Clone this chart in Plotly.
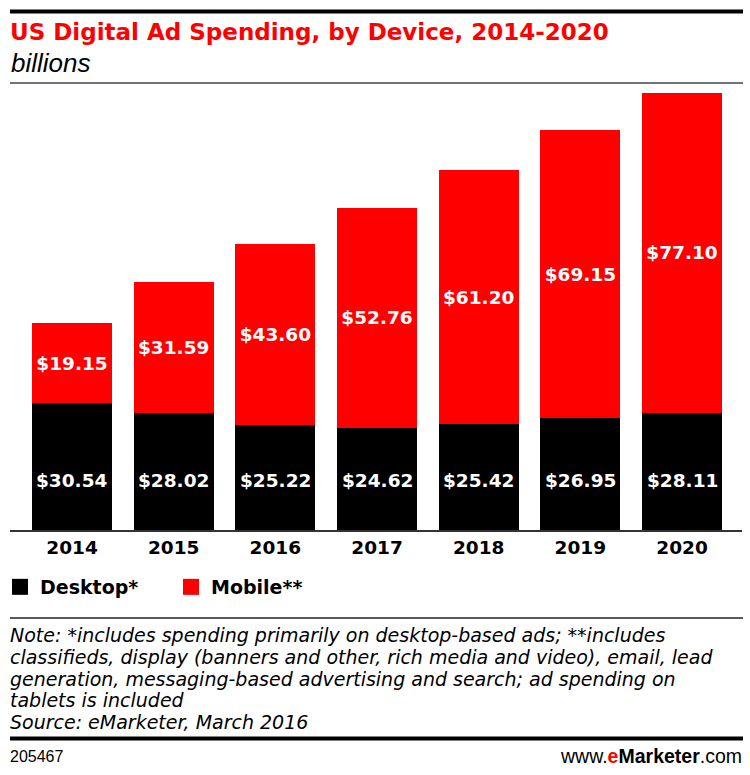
import plotly.graph_objects as go

# ---- data ----
years = ["2014", "2015", "2016", "2017", "2018", "2019", "2020"]
desktop = [30.54, 28.02, 25.22, 24.62, 25.42, 26.95, 28.11]
mobile = [19.15, 31.59, 43.60, 52.76, 61.20, 69.15, 77.10]
series_names = ["Desktop*", "Mobile**"]

title = "US Digital Ad Spending, by Device, 2014-2020"
subtitle = "billions"
note_lines = [
    "Note: *includes spending primarily on desktop-based ads; **includes",
    "classifieds, display (banners and other, rich media and video), email, lead",
    "generation, messaging-based advertising and search; ad spending on",
    "tablets is included",
    "Source: eMarketer, March 2016",
]
chart_id = "205467"

# ---- layout geometry (pixels) ----
W, H = 750, 775
L, R, T, B = 0, 8, 83, 245  # plot area x 0..742, y 83..530


def px(x):
    return (x - L) / (W - L - R)


def py(y):
    return (H - B - y) / (H - T - B)


RED = "#ff0000"
BLACK = "#000000"
BOLD = "DejaVu Sans"
label_font = dict(family=BOLD, size=18.5, color="white", weight="bold")

fig = go.Figure()
fig.add_bar(
    x=years, y=desktop, name=series_names[0], showlegend=False,
    marker=dict(color=BLACK, line=dict(width=0)),
)
fig.add_bar(
    x=years, y=mobile, name=series_names[1], showlegend=False,
    marker=dict(color=RED, line=dict(width=0)),
    text=[f"${v:.2f}" for v in mobile],
    textposition="inside", insidetextanchor="middle", constraintext="none",
    textfont=label_font,
)
# legend entries (square swatches)
for nm, col in zip(series_names, [BLACK, RED]):
    fig.add_scatter(x=[None], y=[None], mode="markers", name=nm,
                    marker=dict(symbol="square", size=17, color=col, line=dict(width=0)))

shapes = [
    dict(type="line", xref="paper", yref="paper", x0=px(10), x1=px(743),
         y0=py(11.5), y1=py(11.5), line=dict(color="#000", width=4)),
    dict(type="line", xref="paper", yref="paper", x0=px(10), x1=px(743),
         y0=py(83), y1=py(83), line=dict(color="#444", width=1.5)),
    dict(type="line", xref="paper", yref="paper", x0=px(10), x1=px(743),
         y0=py(618), y1=py(618), line=dict(color="#222", width=1.5)),
    dict(type="line", xref="paper", yref="paper", x0=px(10), x1=px(743),
         y0=py(738.5), y1=py(738.5), line=dict(color="#000", width=4)),
]

annotations = [
    dict(text=f"<b>{title}</b>", xref="paper", yref="paper", x=px(8), y=py(32),
         xanchor="left", yanchor="middle", showarrow=False,
         font=dict(family="DejaVu Sans", size=23, color=RED)),
    dict(text=f"<i>{subtitle}</i>", xref="paper", yref="paper", x=px(9), y=py(63),
         xanchor="left", yanchor="middle", showarrow=False,
         font=dict(family="Liberation Sans", size=26, color="#000")),
]
# desktop value labels, placed in the lower part of each black segment
for i, v in enumerate(desktop):
    annotations.append(dict(text=f"${v:.2f}", x=i, y=12, xref="x", yref="y",
                            showarrow=False, font=label_font))
for i, line in enumerate(note_lines):
    annotations.append(dict(
        text=f"<i>{line}</i>", xref="paper", yref="paper", x=px(8), y=py(635 + i * 21.8),
        xanchor="left", yanchor="middle", showarrow=False,
        font=dict(family="DejaVu Sans", size=19, color="#000")))
annotations.append(dict(
    text=chart_id, xref="paper", yref="paper", x=px(8), y=py(756),
    xanchor="left", yanchor="middle", showarrow=False,
    font=dict(family="Liberation Sans", size=16, color="#000")))
annotations.append(dict(
    text='www.<b><span style="color:#ff0000">e</span>Marketer</b>.com',
    xref="paper", yref="paper", x=px(744), y=py(756),
    xanchor="right", yanchor="middle", showarrow=False,
    font=dict(family="Liberation Sans", size=19.5, color="#000")))

fig.update_layout(
    width=W, height=H,
    margin=dict(l=L, r=R, t=T, b=B, pad=0),
    barmode="stack", bargap=0.213,
    plot_bgcolor="white", paper_bgcolor="white",
    showlegend=True,
    legend=dict(orientation="h", x=0, y=py(587), xanchor="left", yanchor="middle",
                traceorder="normal", entrywidth=126, entrywidthmode="pixels",
                font=dict(family=BOLD, size=19, color="#000", weight="bold"),
                bgcolor="rgba(0,0,0,0)", itemclick=False, itemdoubleclick=False),
    xaxis=dict(type="category", domain=[px(10), 1], range=[-0.61, 6.59],
               showline=True, linecolor="#333", linewidth=1.5, ticks="",
               showgrid=False, zeroline=False,
               tickfont=dict(family=BOLD, size=18.5, color="#000", weight="bold"),
               fixedrange=True),
    yaxis=dict(range=[0, 107.5], visible=False, fixedrange=True),
    shapes=shapes, annotations=annotations,
    hovermode=False,
)

fig.write_html("out.html", config={"displayModeBar": False})
